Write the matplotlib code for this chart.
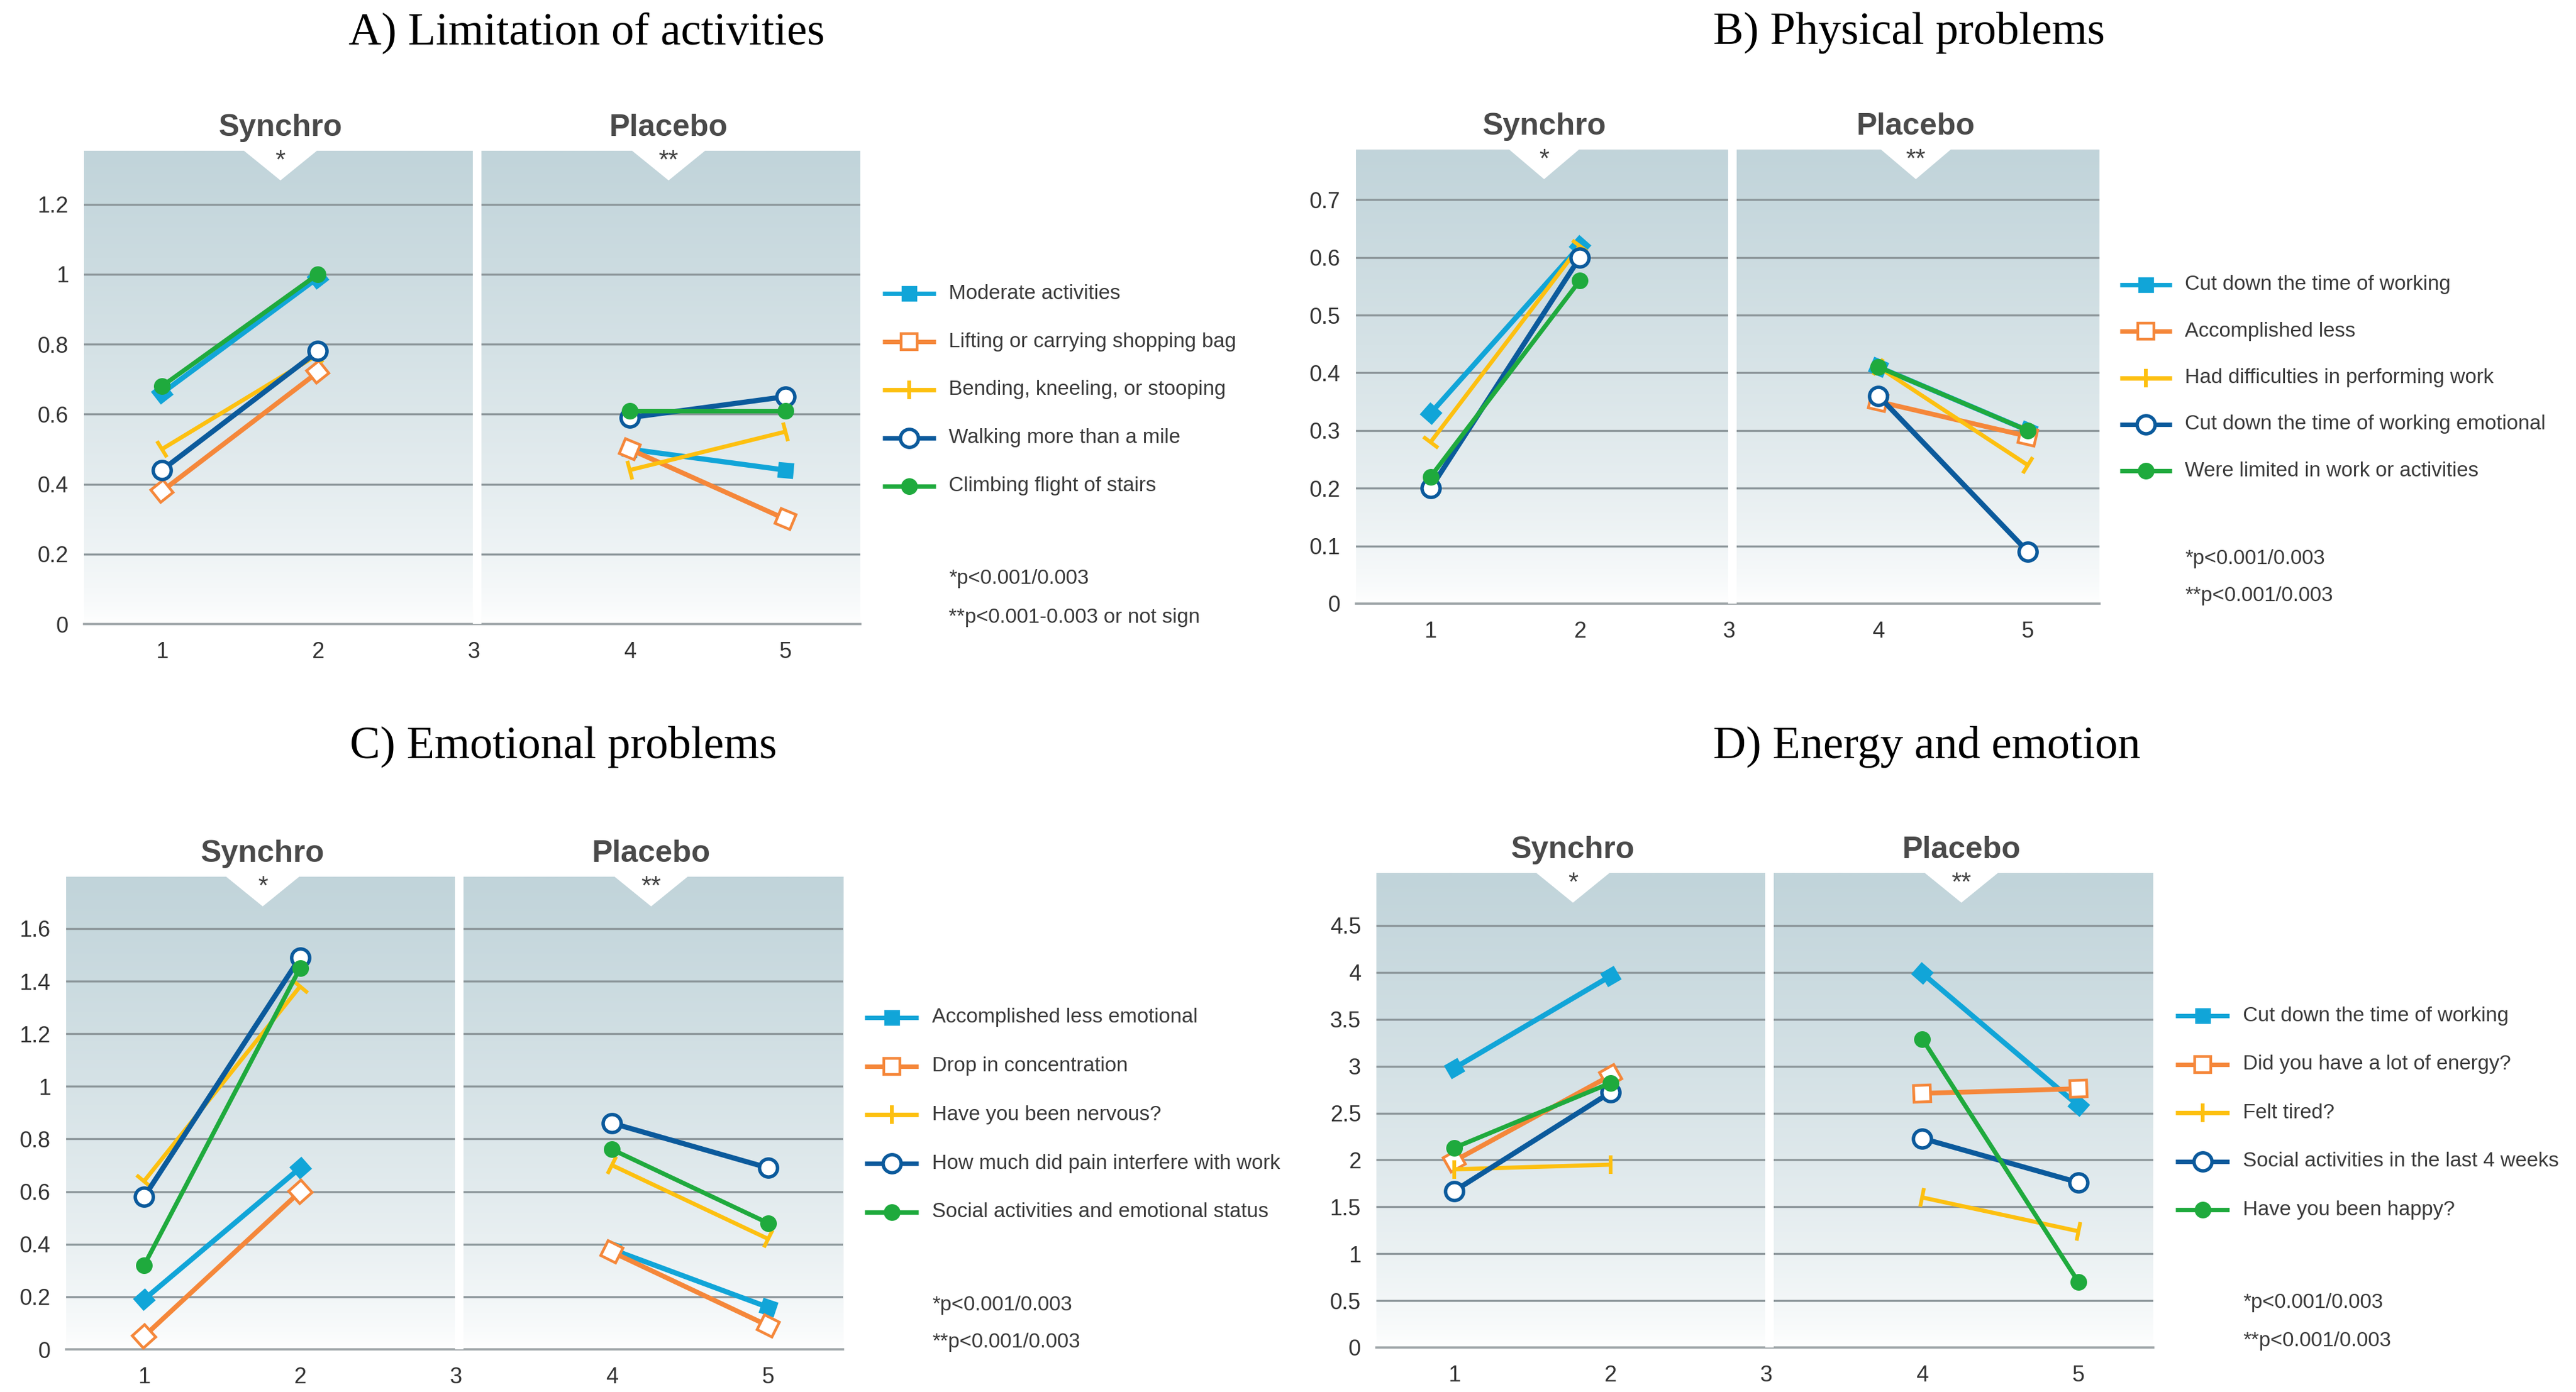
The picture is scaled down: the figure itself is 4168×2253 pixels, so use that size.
import numpy as np
import matplotlib.pyplot as plt
from matplotlib.markers import MarkerStyle
from matplotlib.transforms import Affine2D
from matplotlib.lines import Line2D
from matplotlib.patches import Polygon
from matplotlib.colors import LinearSegmentedColormap

# x positions: 1-2 = Synchro, 4-5 = Placebo
x_ticks = [1, 2, 3, 4, 5]
x_synchro = [1, 2]
x_placebo = [4, 5]

# A) Limitation of activities  (values at x = 1, 2, 4, 5)
a_labels = ["Moderate activities", "Lifting or carrying shopping bag",
            "Bending, kneeling, or stooping", "Walking more than a mile",
            "Climbing flight of stairs"]
a_values = [
    [0.66, 0.99, 0.50, 0.44],
    [0.38, 0.72, 0.50, 0.30],
    [0.50, 0.77, 0.44, 0.55],
    [0.44, 0.78, 0.59, 0.65],
    [0.68, 1.00, 0.61, 0.61],
]
a_yticks = [0, 0.2, 0.4, 0.6, 0.8, 1.0, 1.2]
a_yticklabels = ["0", "0.2", "0.4", "0.6", "0.8", "1", "1.2"]
a_notes = ["*p<0.001/0.003", "**p<0.001-0.003 or not sign"]

# B) Physical problems  (None = not visible in the figure)
b_labels = ["Cut down the time of working", "Accomplished less",
            "Had difficulties in performing work",
            "Cut down the time of working emotional",
            "Were limited in work or activities"]
b_values = [
    [0.33, 0.62, 0.41, 0.30],
    [None, None, 0.35, 0.29],
    [0.28, 0.62, 0.41, 0.24],
    [0.20, 0.60, 0.36, 0.09],
    [0.22, 0.56, 0.41, 0.30],
]
b_yticks = [0, 0.1, 0.2, 0.3, 0.4, 0.5, 0.6, 0.7]
b_yticklabels = ["0", "0.1", "0.2", "0.3", "0.4", "0.5", "0.6", "0.7"]
b_notes = ["*p<0.001/0.003", "**p<0.001/0.003"]

# C) Emotional problems
c_labels = ["Accomplished less emotional", "Drop in concentration",
            "Have you been nervous?", "How much did pain interfere with work",
            "Social activities and emotional status"]
c_values = [
    [0.19, 0.69, 0.38, 0.16],
    [0.05, 0.60, 0.37, 0.09],
    [0.64, 1.38, 0.70, 0.42],
    [0.58, 1.49, 0.86, 0.69],
    [0.32, 1.45, 0.76, 0.48],
]
c_yticks = [0, 0.2, 0.4, 0.6, 0.8, 1.0, 1.2, 1.4, 1.6]
c_yticklabels = ["0", "0.2", "0.4", "0.6", "0.8", "1", "1.2", "1.4", "1.6"]
c_notes = ["*p<0.001/0.003", "**p<0.001/0.003"]

# D) Energy and emotion
d_labels = ["Cut down the time of working", "Did you have a lot of energy?",
            "Felt tired?", "Social activities in the last 4 weeks",
            "Have you been happy?"]
d_values = [
    [2.98, 3.96, 3.99, 2.58],
    [1.99, 2.90, 2.71, 2.76],
    [1.90, 1.95, 1.60, 1.24],
    [1.67, 2.72, 2.23, 1.76],
    [2.13, 2.82, 3.29, 0.70],
]
d_yticks = [0, 0.5, 1, 1.5, 2, 2.5, 3, 3.5, 4, 4.5]
d_yticklabels = ["0", "0.5", "1", "1.5", "2", "2.5", "3", "3.5", "4", "4.5"]
d_notes = ["*p<0.001/0.003", "**p<0.001/0.003"]

# series styles (same order in every panel)
colors = ["#11a5d8", "#f5873a", "#fdc010", "#0b5a9c", "#1faa3d"]
markers = ["s", "s", "|", "o", "o"]
faces = ["#11a5d8", "white", "#fdc010", "white", "#1faa3d"]
msizes = [8, 9.5, 11, 10.5, 8.5]
mews = [1.2, 1.6, 2.2, 2.0, 1.2]
lws = [3.0, 2.8, 2.4, 3.0, 2.6]

W, H = 4168, 2253
DPI = 200
plt.rcParams['font.family'] = ['Liberation Sans', 'DejaVu Sans']
TEXT = "#3a3a3a"

fig = plt.figure(figsize=(W / DPI, H / DPI), dpi=DPI)
fig.patch.set_facecolor("white")

bg_cmap = LinearSegmentedColormap.from_list("bg", ["#ffffff", "#c1d4da"])
XMIN, XMAX = 0.5, 5.48
DIVIDER = 3.02


def px(x, y):
    return x / W, 1 - y / H


def draw_panel(box, ytop, title, title_xy, labels, values, yticks, yticklabels,
               leg_x, leg_y0, leg_dy, notes, notes_y):
    left, top, right, bottom = box
    ax = fig.add_axes([left / W, 1 - bottom / H, (right - left) / W, (bottom - top) / H])
    ax.set_xlim(XMIN, XMAX)
    ax.set_ylim(0, ytop)

    # gradient background
    g = np.linspace(1, 0, 300) ** 0.7
    ax.imshow(g[:, None], extent=(0, 1, 0, 1), transform=ax.transAxes,
              aspect="auto", cmap=bg_cmap, vmin=0, vmax=1, zorder=0)
    ax.set_xlim(XMIN, XMAX)
    ax.set_ylim(0, ytop)

    for yv in yticks[1:]:
        ax.axhline(yv, color="#8d979b", lw=1.2, zorder=1)
    ax.axhline(0, color="#9da4a7", lw=1.3, zorder=1, clip_on=False)
    ax.axvline(DIVIDER, color="white", lw=5, zorder=2)

    # notches + group labels
    for cx, name, star in [((XMIN + DIVIDER) / 2, "Synchro", "*"),
                           ((DIVIDER + XMAX) / 2, "Placebo", "**")]:
        fx = (cx - XMIN) / (XMAX - XMIN)
        hw = 0.047
        tri = Polygon([(fx - hw, 1.0), (fx + hw, 1.0), (fx, 1 - 48 / (bottom - top))],
                      closed=True, transform=ax.transAxes, facecolor="white",
                      edgecolor="none", zorder=2)
        ax.add_patch(tri)
        ax.text(fx, 1 - 17 / (bottom - top), star, transform=ax.transAxes,
                ha="center", va="center", fontsize=15, color="#444444", zorder=3)
        ax.text(fx, 1 + 37 / (bottom - top), name, transform=ax.transAxes,
                ha="center", va="center", fontsize=18, fontweight="bold",
                color="#4a4a4a")

    # data lines, markers rotated along each segment
    for i, vals in enumerate(values):
        for xs, ys in [(x_synchro, vals[:2]), (x_placebo, vals[2:])]:
            if None in ys:
                continue
            p = ax.transData.transform(np.column_stack([xs, ys]))
            ang = np.degrees(np.arctan2(p[1, 1] - p[0, 1], p[1, 0] - p[0, 0]))
            if markers[i] == "o":
                m = "o"
            else:
                m = MarkerStyle(markers[i], transform=Affine2D().rotate_deg(ang))
            ax.plot(xs, ys, color=colors[i], lw=lws[i], marker=m,
                    markersize=msizes[i], markerfacecolor=faces[i],
                    markeredgecolor=colors[i], markeredgewidth=mews[i],
                    zorder=4 + i, solid_capstyle="butt")

    ax.set_xticks(x_ticks)
    ax.set_xticklabels([str(v) for v in x_ticks])
    ax.set_yticks(yticks)
    ax.set_yticklabels(yticklabels)
    ax.tick_params(length=0, labelsize=13, colors="#333333")
    ax.tick_params(axis="y", pad=9)
    ax.tick_params(axis="x", pad=10)
    for s in ax.spines.values():
        s.set_visible(False)

    fig.text(*px(*title_xy), title, ha="center", va="center", fontsize=26.5,
             family="Liberation Serif", color="black")

    # legend
    lx0, lx1, tx = leg_x
    for i, lab in enumerate(labels):
        yy = leg_y0 + i * leg_dy
        _, yf = px(0, yy)
        ln = Line2D([lx0 / W, (lx0 + lx1) / 2 / W, lx1 / W], [yf, yf, yf],
                    transform=fig.transFigure, color=colors[i], lw=2.6,
                    marker=markers[i], markevery=[1], markersize=msizes[i],
                    markerfacecolor=faces[i], markeredgecolor=colors[i],
                    markeredgewidth=mews[i], solid_capstyle="butt")
        fig.add_artist(ln)
        fig.text(tx / W, yf, lab, ha="left", va="center", fontsize=12, color=TEXT)
    for note, ny in zip(notes, notes_y):
        fig.text(tx / W, 1 - ny / H, note, ha="left", va="center", fontsize=12,
                 color=TEXT)
    return ax


draw_panel((136, 244, 1392, 1010), 1.353, "A) Limitation of activities", (949, 53),
           a_labels, a_values, a_yticks, a_yticklabels,
           (1428, 1514, 1535), 475, 78, a_notes, (937, 999))
draw_panel((2194, 242, 3397, 977), 0.787, "B) Physical problems", (3089, 53),
           b_labels, b_values, b_yticks, b_yticklabels,
           (3430, 3514, 3535), 461, 75.3, b_notes, (905, 964))
draw_panel((107, 1419, 1364, 2184), 1.797, "C) Emotional problems", (912, 1209),
           c_labels, c_values, c_yticks, c_yticklabels,
           (1399, 1486, 1508), 1647, 78.7, c_notes, (2112, 2173))
draw_panel((2227, 1413, 3484, 2181), 5.06, "D) Energy and emotion", (3118, 1209),
           d_labels, d_values, d_yticks, d_yticklabels,
           (3520, 3607, 3629), 1644, 78.5, d_notes, (2108, 2170))

fig.savefig("out.png", dpi=DPI, facecolor="white")
